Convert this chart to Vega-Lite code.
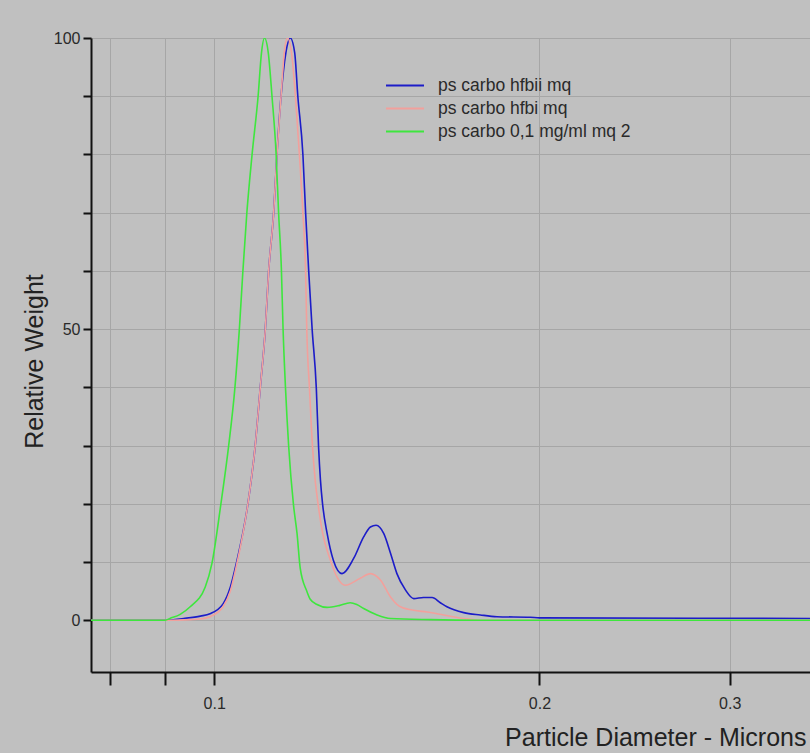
{
  "$schema": "https://vega.github.io/schema/vega-lite/v6.json",
  "width": 719,
  "height": 634,
  "autosize": {"type": "none"},
  "padding": {"left": 91, "top": 38, "right": 0, "bottom": 81},
  "background": "#c0c0c0",
  "config": {
    "view": {"stroke": null},
    "font": "Liberation Sans"
  },
  "datasets": {
    "curves": [
      {"s": "ps carbo hfbii mq", "d": 0.0769, "w": 0},
      {"s": "ps carbo hfbii mq", "d": 0.0901, "w": 0},
      {"s": "ps carbo hfbii mq", "d": 0.0937, "w": 0.3},
      {"s": "ps carbo hfbii mq", "d": 0.0971, "w": 0.7},
      {"s": "ps carbo hfbii mq", "d": 0.0991, "w": 1.1},
      {"s": "ps carbo hfbii mq", "d": 0.1019, "w": 2.8},
      {"s": "ps carbo hfbii mq", "d": 0.1035, "w": 5.7},
      {"s": "ps carbo hfbii mq", "d": 0.1048, "w": 9.7},
      {"s": "ps carbo hfbii mq", "d": 0.1074, "w": 19.8},
      {"s": "ps carbo hfbii mq", "d": 0.1091, "w": 29.8},
      {"s": "ps carbo hfbii mq", "d": 0.1103, "w": 39.9},
      {"s": "ps carbo hfbii mq", "d": 0.1115, "w": 50},
      {"s": "ps carbo hfbii mq", "d": 0.1123, "w": 60},
      {"s": "ps carbo hfbii mq", "d": 0.1135, "w": 70},
      {"s": "ps carbo hfbii mq", "d": 0.1143, "w": 80},
      {"s": "ps carbo hfbii mq", "d": 0.1153, "w": 90},
      {"s": "ps carbo hfbii mq", "d": 0.1165, "w": 97.5},
      {"s": "ps carbo hfbii mq", "d": 0.1176, "w": 100},
      {"s": "ps carbo hfbii mq", "d": 0.1187, "w": 97.5},
      {"s": "ps carbo hfbii mq", "d": 0.1195, "w": 90},
      {"s": "ps carbo hfbii mq", "d": 0.1208, "w": 80},
      {"s": "ps carbo hfbii mq", "d": 0.1215, "w": 70},
      {"s": "ps carbo hfbii mq", "d": 0.1223, "w": 60},
      {"s": "ps carbo hfbii mq", "d": 0.1232, "w": 50},
      {"s": "ps carbo hfbii mq", "d": 0.1243, "w": 39.9},
      {"s": "ps carbo hfbii mq", "d": 0.1249, "w": 29.8},
      {"s": "ps carbo hfbii mq", "d": 0.1254, "w": 24.1},
      {"s": "ps carbo hfbii mq", "d": 0.1260, "w": 19.8},
      {"s": "ps carbo hfbii mq", "d": 0.1272, "w": 14.9},
      {"s": "ps carbo hfbii mq", "d": 0.1289, "w": 10.3},
      {"s": "ps carbo hfbii mq", "d": 0.1313, "w": 8.0},
      {"s": "ps carbo hfbii mq", "d": 0.1346, "w": 10.6},
      {"s": "ps carbo hfbii mq", "d": 0.1375, "w": 14.3},
      {"s": "ps carbo hfbii mq", "d": 0.1395, "w": 16.0},
      {"s": "ps carbo hfbii mq", "d": 0.1412, "w": 16.3},
      {"s": "ps carbo hfbii mq", "d": 0.1435, "w": 14.9},
      {"s": "ps carbo hfbii mq", "d": 0.1456, "w": 11.5},
      {"s": "ps carbo hfbii mq", "d": 0.1476, "w": 8.0},
      {"s": "ps carbo hfbii mq", "d": 0.1503, "w": 5.2},
      {"s": "ps carbo hfbii mq", "d": 0.1530, "w": 3.7},
      {"s": "ps carbo hfbii mq", "d": 0.1562, "w": 3.9},
      {"s": "ps carbo hfbii mq", "d": 0.1591, "w": 3.9},
      {"s": "ps carbo hfbii mq", "d": 0.1619, "w": 3.0},
      {"s": "ps carbo hfbii mq", "d": 0.1642, "w": 2.3},
      {"s": "ps carbo hfbii mq", "d": 0.1702, "w": 1.3},
      {"s": "ps carbo hfbii mq", "d": 0.1763, "w": 0.9},
      {"s": "ps carbo hfbii mq", "d": 0.1827, "w": 0.6},
      {"s": "ps carbo hfbii mq", "d": 0.1961, "w": 0.5},
      {"s": "ps carbo hfbii mq", "d": 0.2, "w": 0.4},
      {"s": "ps carbo hfbii mq", "d": 0.356, "w": 0.3},

      {"s": "ps carbo hfbi mq", "d": 0.0769, "w": 0},
      {"s": "ps carbo hfbi mq", "d": 0.0910, "w": 0},
      {"s": "ps carbo hfbi mq", "d": 0.0950, "w": 0.1},
      {"s": "ps carbo hfbi mq", "d": 0.0971, "w": 0.2},
      {"s": "ps carbo hfbi mq", "d": 0.0991, "w": 0.6},
      {"s": "ps carbo hfbi mq", "d": 0.1019, "w": 2.3},
      {"s": "ps carbo hfbi mq", "d": 0.1035, "w": 5.0},
      {"s": "ps carbo hfbi mq", "d": 0.1048, "w": 9.2},
      {"s": "ps carbo hfbi mq", "d": 0.1074, "w": 19.8},
      {"s": "ps carbo hfbi mq", "d": 0.1091, "w": 29.8},
      {"s": "ps carbo hfbi mq", "d": 0.1103, "w": 39.9},
      {"s": "ps carbo hfbi mq", "d": 0.1115, "w": 50},
      {"s": "ps carbo hfbi mq", "d": 0.1123, "w": 60},
      {"s": "ps carbo hfbi mq", "d": 0.1135, "w": 70},
      {"s": "ps carbo hfbi mq", "d": 0.1143, "w": 80},
      {"s": "ps carbo hfbi mq", "d": 0.1153, "w": 90},
      {"s": "ps carbo hfbi mq", "d": 0.1161, "w": 97.5},
      {"s": "ps carbo hfbi mq", "d": 0.1169, "w": 100},
      {"s": "ps carbo hfbi mq", "d": 0.1179, "w": 97.5},
      {"s": "ps carbo hfbi mq", "d": 0.1189, "w": 90},
      {"s": "ps carbo hfbi mq", "d": 0.1199, "w": 80},
      {"s": "ps carbo hfbi mq", "d": 0.1208, "w": 70},
      {"s": "ps carbo hfbi mq", "d": 0.1215, "w": 60},
      {"s": "ps carbo hfbi mq", "d": 0.1218, "w": 50},
      {"s": "ps carbo hfbi mq", "d": 0.1225, "w": 39.9},
      {"s": "ps carbo hfbi mq", "d": 0.1233, "w": 29.8},
      {"s": "ps carbo hfbi mq", "d": 0.1240, "w": 24.1},
      {"s": "ps carbo hfbi mq", "d": 0.1248, "w": 19.8},
      {"s": "ps carbo hfbi mq", "d": 0.1260, "w": 14.9},
      {"s": "ps carbo hfbi mq", "d": 0.1281, "w": 10.3},
      {"s": "ps carbo hfbi mq", "d": 0.1300, "w": 7.3},
      {"s": "ps carbo hfbi mq", "d": 0.1322, "w": 6.0},
      {"s": "ps carbo hfbi mq", "d": 0.1365, "w": 7.2},
      {"s": "ps carbo hfbi mq", "d": 0.1395, "w": 8.0},
      {"s": "ps carbo hfbi mq", "d": 0.1425, "w": 6.9},
      {"s": "ps carbo hfbi mq", "d": 0.1456, "w": 4.0},
      {"s": "ps carbo hfbi mq", "d": 0.1487, "w": 2.3},
      {"s": "ps carbo hfbi mq", "d": 0.1530, "w": 1.7},
      {"s": "ps carbo hfbi mq", "d": 0.1574, "w": 1.4},
      {"s": "ps carbo hfbi mq", "d": 0.1631, "w": 0.9},
      {"s": "ps carbo hfbi mq", "d": 0.1702, "w": 0.3},
      {"s": "ps carbo hfbi mq", "d": 0.1763, "w": 0},
      {"s": "ps carbo hfbi mq", "d": 0.356, "w": 0},

      {"s": "ps carbo 0,1 mg/ml mq 2", "d": 0.0769, "w": 0},
      {"s": "ps carbo 0,1 mg/ml mq 2", "d": 0.0901, "w": 0},
      {"s": "ps carbo 0,1 mg/ml mq 2", "d": 0.0910, "w": 0.3},
      {"s": "ps carbo 0,1 mg/ml mq 2", "d": 0.0930, "w": 1.0},
      {"s": "ps carbo 0,1 mg/ml mq 2", "d": 0.0950, "w": 2.3},
      {"s": "ps carbo 0,1 mg/ml mq 2", "d": 0.0981, "w": 5.7},
      {"s": "ps carbo 0,1 mg/ml mq 2", "d": 0.0995, "w": 9.7},
      {"s": "ps carbo 0,1 mg/ml mq 2", "d": 0.1014, "w": 19.8},
      {"s": "ps carbo 0,1 mg/ml mq 2", "d": 0.1031, "w": 29.8},
      {"s": "ps carbo 0,1 mg/ml mq 2", "d": 0.1045, "w": 39.9},
      {"s": "ps carbo 0,1 mg/ml mq 2", "d": 0.1055, "w": 50},
      {"s": "ps carbo 0,1 mg/ml mq 2", "d": 0.1063, "w": 60},
      {"s": "ps carbo 0,1 mg/ml mq 2", "d": 0.1072, "w": 70},
      {"s": "ps carbo 0,1 mg/ml mq 2", "d": 0.1084, "w": 80},
      {"s": "ps carbo 0,1 mg/ml mq 2", "d": 0.1098, "w": 90},
      {"s": "ps carbo 0,1 mg/ml mq 2", "d": 0.1106, "w": 97.5},
      {"s": "ps carbo 0,1 mg/ml mq 2", "d": 0.1113, "w": 100},
      {"s": "ps carbo 0,1 mg/ml mq 2", "d": 0.1122, "w": 97.5},
      {"s": "ps carbo 0,1 mg/ml mq 2", "d": 0.1131, "w": 90},
      {"s": "ps carbo 0,1 mg/ml mq 2", "d": 0.1141, "w": 80},
      {"s": "ps carbo 0,1 mg/ml mq 2", "d": 0.1147, "w": 70},
      {"s": "ps carbo 0,1 mg/ml mq 2", "d": 0.1154, "w": 60},
      {"s": "ps carbo 0,1 mg/ml mq 2", "d": 0.1158, "w": 50},
      {"s": "ps carbo 0,1 mg/ml mq 2", "d": 0.1164, "w": 39.9},
      {"s": "ps carbo 0,1 mg/ml mq 2", "d": 0.1172, "w": 29.8},
      {"s": "ps carbo 0,1 mg/ml mq 2", "d": 0.1184, "w": 19.8},
      {"s": "ps carbo 0,1 mg/ml mq 2", "d": 0.1193, "w": 14.9},
      {"s": "ps carbo 0,1 mg/ml mq 2", "d": 0.1201, "w": 9.0},
      {"s": "ps carbo 0,1 mg/ml mq 2", "d": 0.1218, "w": 5.0},
      {"s": "ps carbo 0,1 mg/ml mq 2", "d": 0.1227, "w": 3.6},
      {"s": "ps carbo 0,1 mg/ml mq 2", "d": 0.1245, "w": 2.7},
      {"s": "ps carbo 0,1 mg/ml mq 2", "d": 0.1272, "w": 2.2},
      {"s": "ps carbo 0,1 mg/ml mq 2", "d": 0.1305, "w": 2.5},
      {"s": "ps carbo 0,1 mg/ml mq 2", "d": 0.1336, "w": 3.0},
      {"s": "ps carbo 0,1 mg/ml mq 2", "d": 0.1355, "w": 2.7},
      {"s": "ps carbo 0,1 mg/ml mq 2", "d": 0.1375, "w": 2.0},
      {"s": "ps carbo 0,1 mg/ml mq 2", "d": 0.1415, "w": 0.9},
      {"s": "ps carbo 0,1 mg/ml mq 2", "d": 0.1456, "w": 0.3},
      {"s": "ps carbo 0,1 mg/ml mq 2", "d": 0.1585, "w": 0.1},
      {"s": "ps carbo 0,1 mg/ml mq 2", "d": 0.1763, "w": 0},
      {"s": "ps carbo 0,1 mg/ml mq 2", "d": 0.356, "w": 0}
    ]
  },
  "layer": [
    {
      "data": {"name": "curves"},
      "mark": {"type": "line", "interpolate": "monotone", "strokeWidth": 1.6, "clip": true},
      "encoding": {
        "x": {
          "field": "d",
          "type": "quantitative",
          "scale": {"type": "log", "domain": [0.0769, 0.356], "nice": false, "zero": false},
          "axis": {
            "grid": true,
            "values": [0.08, 0.09, 0.1, 0.2, 0.3],
            "labelExpr": "datum.value >= 0.1 ? format(datum.value, '.1f') : ''",
            "title": "Particle Diameter - Microns",
            "titleFontSize": 25,
            "titleFontWeight": "normal",
            "titleColor": "#222222",
            "titleAnchor": "end",
            "titleAlign": "right",
            "titleX": 715,
            "titleY": 73,
            "titleBaseline": "alphabetic",
            "labelFontSize": 16,
            "labelColor": "#2a2a2a",
            "labelPadding": 10,
            "tickSize": 13,
            "tickWidth": 2,
            "tickColor": "#111111",
            "domainColor": "#111111",
            "domainWidth": 2,
            "gridColor": "#a6a6a6",
            "gridWidth": 1,
            "gridOpacity": 1
          }
        },
        "y": {
          "field": "w",
          "type": "quantitative",
          "scale": {"domain": [-8.9, 100], "nice": false, "zero": false},
          "axis": {
            "grid": true,
            "values": [0, 10, 20, 30, 40, 50, 60, 70, 80, 90, 100],
            "labelExpr": "datum.value % 50 == 0 ? datum.label : ''",
            "title": "Relative Weight",
            "titleFontSize": 25,
            "titleFontWeight": "normal",
            "titleColor": "#222222",
            "titleAngle": -90,
            "titleX": -49,
            "titleY": 323,
            "titleAlign": "center",
            "titleBaseline": "alphabetic",
            "labelFontSize": 16,
            "labelColor": "#2a2a2a",
            "labelPadding": 3,
            "tickSize": 8,
            "tickWidth": 2,
            "tickColor": "#111111",
            "domainColor": "#111111",
            "domainWidth": 2,
            "gridColor": "#a6a6a6",
            "gridWidth": 1,
            "gridOpacity": 1
          }
        },
        "color": {
          "field": "s",
          "type": "nominal",
          "scale": {
            "domain": ["ps carbo hfbii mq", "ps carbo hfbi mq", "ps carbo 0,1 mg/ml mq 2"],
            "range": ["#1c1cc8", "#f2a09c", "#3ee63e"]
          },
          "legend": {
            "title": null,
            "orient": "none",
            "legendX": 294,
            "legendY": 36,
            "symbolType": "stroke",
            "symbolSize": 1444,
            "symbolStrokeWidth": 2,
            "labelFontSize": 17.5,
            "labelColor": "#2a2a2a",
            "labelOffset": 13,
            "labelLimit": 0,
            "clipHeight": 23,
            "rowPadding": 0
          }
        }
      }
    },
    {
      "mark": {"type": "rule", "color": "#5a5a5a", "strokeWidth": 2},
      "encoding": {"y": {"datum": 0}}
    }
  ]
}
